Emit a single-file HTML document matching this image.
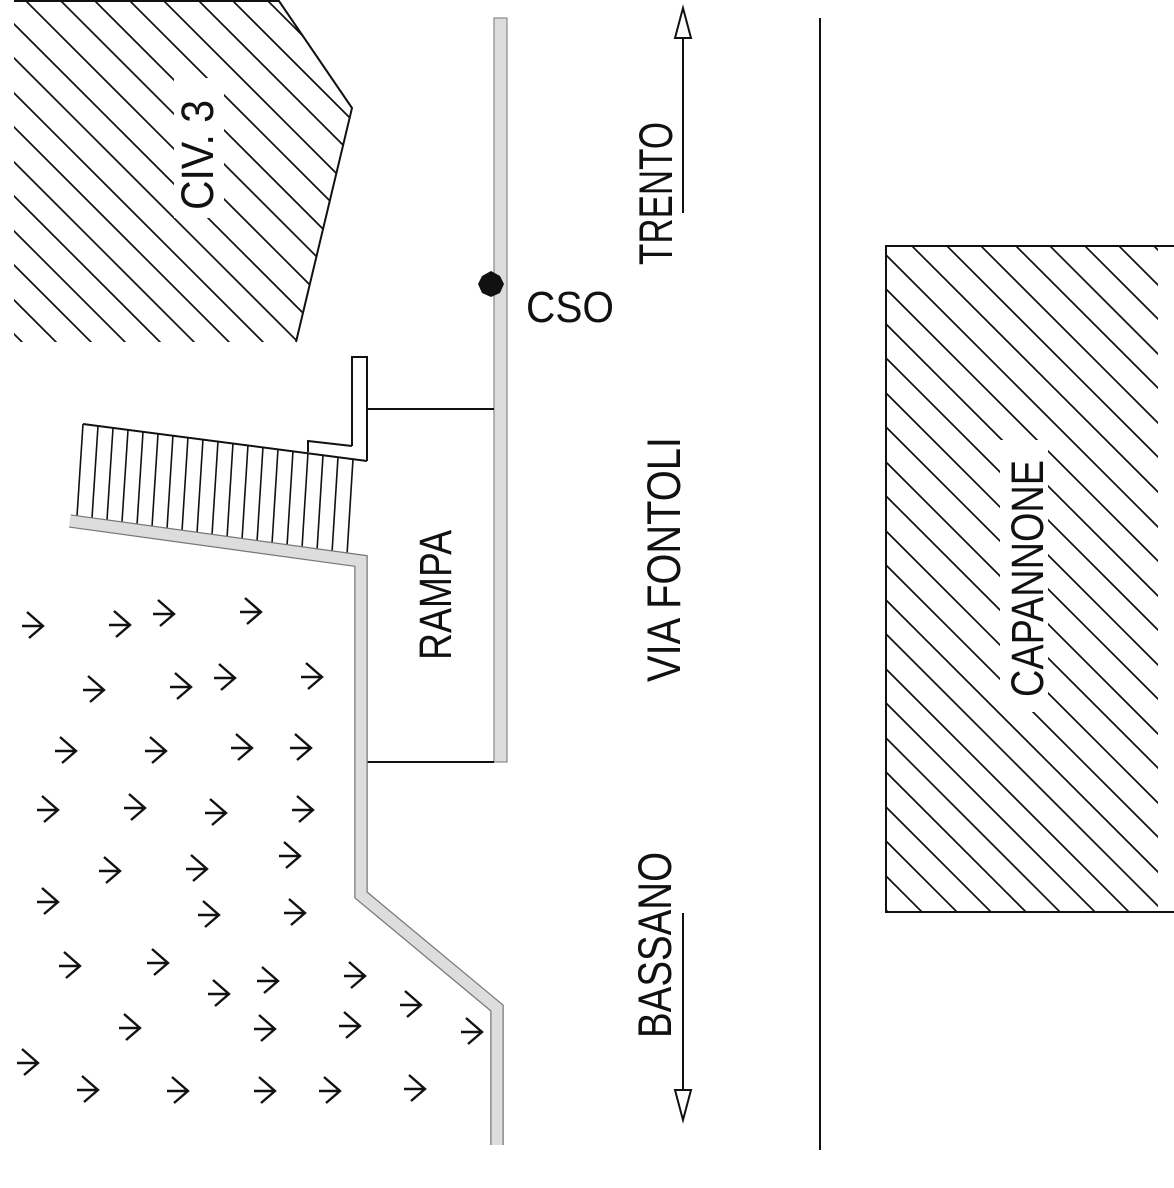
<!DOCTYPE html>
<html><head><meta charset="utf-8"><style>
html,body{margin:0;padding:0;background:#fff;}
svg{display:block;}
text{font-family:"Liberation Sans",sans-serif;fill:#111;}
</style></head><body>
<svg width="1174" height="1188" viewBox="0 0 1174 1188" xmlns="http://www.w3.org/2000/svg">
<defs>
<clipPath id="cc"><polygon points="14,1 279,1 352,108 296,342 14,342"/></clipPath>
<clipPath id="cp"><rect x="886" y="246" width="272" height="666"/></clipPath>
<g id="g"><path d="M-13,0 H8 M-8,-14 L8,0 L-6,12" fill="none" stroke="#111" stroke-width="2.4"/></g>
</defs>
<rect width="1174" height="1188" fill="#fff"/>

<!-- CIV 3 -->
<g clip-path="url(#cc)" stroke="#111" stroke-width="1.7">
<path d="M-330 -10L80 400M-296 -10L114 400M-261 -10L149 400M-227 -10L183 400M-192 -10L218 400M-158 -10L252 400M-123 -10L287 400M-89 -10L321 400M-54 -10L356 400M-20 -10L390 400M15 -10L425 400M50 -10L460 400M84 -10L494 400M119 -10L529 400M153 -10L563 400M188 -10L598 400M222 -10L632 400M257 -10L667 400M291 -10L701 400M326 -10L736 400"/>
</g>
<polyline points="14,1 279,1 352,108 296,342" fill="none" stroke="#111" stroke-width="2"/>
<rect x="174" y="78" width="50" height="140" fill="#fff"/>
<text transform="translate(213,210) rotate(-90)" font-size="45" textLength="110" lengthAdjust="spacingAndGlyphs">CIV. 3</text>

<!-- CAPANNONE -->
<g clip-path="url(#cp)" stroke="#111" stroke-width="1.7">
<path d="M212 236L906 930M246 236L940 930M281 236L975 930M315 236L1009 930M350 236L1044 930M384 236L1078 930M419 236L1113 930M453 236L1147 930M488 236L1182 930M522 236L1216 930M557 236L1251 930M591 236L1285 930M626 236L1320 930M660 236L1354 930M695 236L1389 930M729 236L1423 930M764 236L1458 930M798 236L1492 930M833 236L1527 930M867 236L1561 930M902 236L1596 930M937 236L1631 930M971 236L1665 930M1006 236L1700 930M1040 236L1734 930M1075 236L1769 930M1109 236L1803 930M1144 236L1838 930"/>
</g>
<polyline points="1174,246 886,246 886,912 1174,912" fill="none" stroke="#111" stroke-width="2"/>
<rect x="1000" y="440" width="48" height="272" fill="#fff"/>
<text transform="translate(1043,697) rotate(-90)" font-size="45" textLength="237" lengthAdjust="spacingAndGlyphs">CAPANNONE</text>

<!-- road centre line -->
<line x1="820" y1="18" x2="820" y2="1150" stroke="#111" stroke-width="2"/>

<!-- road edge wall -->
<rect x="494" y="18" width="13" height="744" fill="#ddd" stroke="#888" stroke-width="1.2"/>
<polygon points="491,271 500,276 504,284 500,293 491,297 482,293 478,284 482,276" fill="#111"/>
<text x="526" y="322" font-size="44" textLength="88" lengthAdjust="spacingAndGlyphs">CSO</text>

<!-- ramp lines -->
<line x1="367" y1="409" x2="494" y2="409" stroke="#111" stroke-width="2"/>
<line x1="367" y1="762" x2="494" y2="762" stroke="#111" stroke-width="2"/>
<text transform="translate(451,660) rotate(-90)" font-size="45" textLength="130" lengthAdjust="spacingAndGlyphs">RAMPA</text>

<!-- L element -->
<polyline points="352,446 352,357 367,357 367,461" fill="none" stroke="#111" stroke-width="2"/>
<polyline points="352,446 308,441 308,452" fill="none" stroke="#111" stroke-width="2"/>

<!-- steps -->
<line x1="83" y1="424" x2="367" y2="461" stroke="#111" stroke-width="2"/>
<g stroke="#111" stroke-width="1.6">
<line x1="83" y1="424" x2="77" y2="516"/><line x1="98" y1="426" x2="92" y2="518"/>
<line x1="113" y1="428" x2="107" y2="520"/><line x1="128" y1="430" x2="122" y2="522"/>
<line x1="143" y1="432" x2="137" y2="525"/><line x1="158" y1="434" x2="152" y2="527"/>
<line x1="173" y1="435" x2="167" y2="529"/><line x1="188" y1="437" x2="182" y2="531"/>
<line x1="203" y1="439" x2="197" y2="533"/><line x1="218" y1="441" x2="212" y2="535"/>
<line x1="233" y1="443" x2="227" y2="538"/><line x1="248" y1="445" x2="242" y2="540"/>
<line x1="263" y1="447" x2="257" y2="542"/><line x1="278" y1="449" x2="272" y2="544"/>
<line x1="293" y1="451" x2="287" y2="546"/><line x1="308" y1="453" x2="302" y2="548"/>
<line x1="323" y1="455" x2="317" y2="551"/><line x1="338" y1="457" x2="332" y2="553"/>
<line x1="353" y1="459" x2="347" y2="555"/>
</g>

<!-- lower wall -->
<polyline points="70,521 361,561 361,895 497,1008 497,1145" fill="none" stroke="#777" stroke-width="13.5" stroke-linejoin="miter"/>
<polyline points="70,521 361,561 361,895 497,1008 497,1145" fill="none" stroke="#ddd" stroke-width="11" stroke-linejoin="miter"/>

<!-- direction texts -->
<text transform="translate(672,265) rotate(-90)" font-size="47" textLength="143" lengthAdjust="spacingAndGlyphs">TRENTO</text>
<line x1="683" y1="38" x2="683" y2="213" stroke="#111" stroke-width="2"/>
<polygon points="683,8 675,38 691,38" fill="#fff" stroke="#111" stroke-width="2"/>
<text transform="translate(680,682) rotate(-90)" font-size="47" textLength="245" lengthAdjust="spacingAndGlyphs">VIA FONTOLI</text>
<text transform="translate(671,1038) rotate(-90)" font-size="47" textLength="186" lengthAdjust="spacingAndGlyphs">BASSANO</text>
<line x1="683" y1="913" x2="683" y2="1090" stroke="#111" stroke-width="2"/>
<polygon points="683,1120 675,1090 691,1090" fill="#fff" stroke="#111" stroke-width="2"/>

<!-- grass -->
<use href="#g" x="35" y="626"/><use href="#g" x="122" y="625"/><use href="#g" x="166" y="614"/><use href="#g" x="253" y="612"/>
<use href="#g" x="96" y="690"/><use href="#g" x="183" y="687"/><use href="#g" x="227" y="678"/><use href="#g" x="314" y="677"/>
<use href="#g" x="68" y="751"/><use href="#g" x="158" y="751"/><use href="#g" x="244" y="748"/><use href="#g" x="303" y="748"/>
<use href="#g" x="50" y="810"/><use href="#g" x="137" y="808"/><use href="#g" x="218" y="813"/><use href="#g" x="305" y="810"/>
<use href="#g" x="112" y="871"/><use href="#g" x="199" y="869"/><use href="#g" x="292" y="856"/>
<use href="#g" x="50" y="902"/><use href="#g" x="211" y="915"/><use href="#g" x="297" y="913"/>
<use href="#g" x="72" y="966"/><use href="#g" x="160" y="963"/><use href="#g" x="221" y="994"/><use href="#g" x="270" y="981"/><use href="#g" x="357" y="976"/>
<use href="#g" x="132" y="1028"/><use href="#g" x="267" y="1029"/><use href="#g" x="352" y="1026"/><use href="#g" x="413" y="1005"/><use href="#g" x="474" y="1032"/>
<use href="#g" x="30" y="1063"/><use href="#g" x="90" y="1090"/><use href="#g" x="180" y="1091"/><use href="#g" x="267" y="1091"/><use href="#g" x="332" y="1091"/><use href="#g" x="417" y="1089"/>
</svg>
</body></html>
